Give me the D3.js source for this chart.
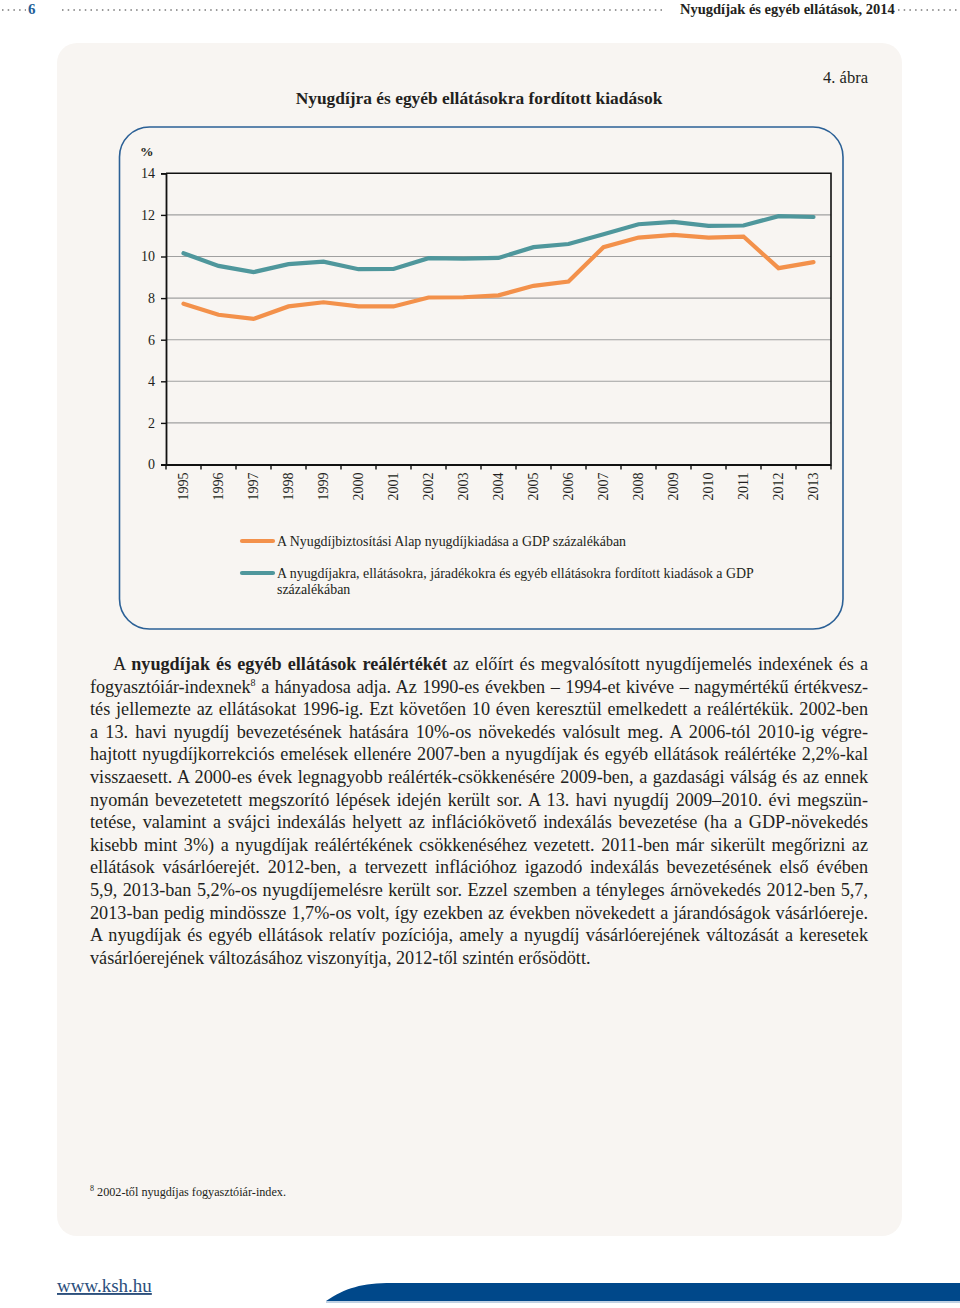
<!DOCTYPE html>
<html><head><meta charset="utf-8">
<script src="https://cdn.jsdelivr.net/npm/d3@7"></script>
<style>
html,body{margin:0;padding:0;background:#fff;}
#page{position:relative;width:960px;height:1308px;overflow:hidden;font-family:"Liberation Serif","DejaVu Serif",serif;}
svg{position:absolute;left:0;top:0;}
.body{position:absolute;left:90px;width:778px;font-size:18.2px;line-height:22.6px;color:#231f20;}
.body div{white-space:nowrap;text-align:justify;text-align-last:justify;}
.body div.last{text-align-last:left;}
.body div.tight{letter-spacing:-0.08px;}
.body sup{font-size:10px;line-height:0;}
.foot{position:absolute;left:90px;top:1184px;font-size:12.2px;color:#231f20;}
.foot sup{font-size:8px;}
</style></head>
<body><div id="page"></div>
<script>
// ---- data ----
const years = ["1995","1996","1997","1998","1999","2000","2001","2002","2003","2004","2005","2006","2007","2008","2009","2010","2011","2012","2013"];
const seriesNyA = [7.73,7.2,7.0,7.6,7.8,7.6,7.6,8.03,8.04,8.13,8.59,8.8,10.45,10.91,11.04,10.91,10.96,9.44,9.73];
const seriesOsszes = [10.16,9.55,9.25,9.63,9.75,9.39,9.4,9.92,9.9,9.93,10.45,10.6,11.07,11.55,11.66,11.47,11.49,11.94,11.9];
const yTicks = [0,2,4,6,8,10,12,14];
const legendLabels = [
  ["A Nyugdíjbiztosítási Alap nyugdíjkiadása a GDP százalékában"],
  ["A nyugdíjakra, ellátásokra, járadékokra és egyéb ellátásokra fordított kiadások a GDP","százalékában"]
];
const chartTitle = "Nyugdíjra és egyéb ellátásokra fordított kiadások";
const figLabel = "4. ábra";
const headerTitle = "Nyugdíjak és egyéb ellátások, 2014";
const bodyLines = [
 'A <b>nyugdíjak és egyéb ellátások reálértékét</b> az előírt és megvalósított nyugdíjemelés indexének és a',
 'fogyasztóiár-indexnek<sup>8</sup> a hányadosa adja. Az 1990-es években – 1994-et kivéve – nagymértékű értékvesz-',
 'tés jellemezte az ellátásokat 1996-ig. Ezt követően 10 éven keresztül emelkedett a reálértékük. 2002-ben',
 'a 13. havi nyugdíj bevezetésének hatására 10%-os növekedés valósult meg. A 2006-tól 2010-ig végre-',
 'hajtott nyugdíjkorrekciós emelések ellenére 2007-ben a nyugdíjak és egyéb ellátások reálértéke 2,2%-kal',
 'visszaesett. A 2000-es évek legnagyobb reálérték-csökkenésére 2009-ben, a gazdasági válság és az ennek',
 'nyomán bevezetetett megszorító lépések idején került sor. A 13. havi nyugdíj 2009–2010. évi megszün-',
 'tetése, valamint a svájci indexálás helyett az inflációkövető indexálás bevezetése (ha a GDP-növekedés',
 'kisebb mint 3%) a nyugdíjak reálértékének csökkenéséhez vezetett. 2011-ben már sikerült megőrizni az',
 'ellátások vásárlóerejét. 2012-ben, a tervezett inflációhoz igazodó indexálás bevezetésének első évében',
 '5,9, 2013-ban 5,2%-os nyugdíjemelésre került sor. Ezzel szemben a tényleges árnövekedés 2012-ben 5,7,',
 '2013-ban pedig mindössze 1,7%-os volt, így ezekben az években növekedett a járandóságok vásárlóereje.',
 'A nyugdíjak és egyéb ellátások relatív pozíciója, amely a nyugdíj vásárlóerejének változását a keresetek',
 'vásárlóerejének változásához viszonyítja, 2012-től szintén erősödött.'
];
const footnote = '<sup>8</sup> 2002-től nyugdíjas fogyasztóiár-index.';

// ---- drawing ----
(function(){
const page = d3.select("#page");
const svg = page.append("svg").attr("width",960).attr("height",1308);
const serif = '"Liberation Serif","DejaVu Serif",serif';

// header
const dotLine = (x1,x2,yy)=>svg.append("line").attr("x1",x1).attr("x2",x2).attr("y1",yy).attr("y2",yy)
  .attr("stroke","#9a9a9a").attr("stroke-width",2).attr("stroke-dasharray","1.5,4.2").attr("stroke-linecap","butt");
dotLine(2,26,10); dotLine(62,662,10); dotLine(898,960,10);
svg.append("text").attr("x",28).attr("y",14).attr("font-family",serif).attr("font-weight","bold")
  .attr("font-size",15).attr("fill","#1f5f99").text("6");
svg.append("text").attr("x",680).attr("y",14).attr("font-family",serif).attr("font-weight","bold")
  .attr("font-size",14.5).attr("fill","#231f20").text(headerTitle);

// panel
svg.append("rect").attr("x",57).attr("y",43).attr("width",845).attr("height",1193).attr("rx",20)
  .attr("fill","#f8f5f2");

svg.append("text").attr("x",868).attr("y",83).attr("text-anchor","end").attr("font-family",serif)
  .attr("font-size",16.5).attr("fill","#231f20").text(figLabel);
svg.append("text").attr("x",479).attr("y",104).attr("text-anchor","middle").attr("font-family",serif)
  .attr("font-weight","bold").attr("font-size",17.4).attr("fill","#231f20").text(chartTitle);

// chart frame
svg.append("rect").attr("x",119.5).attr("y",127).attr("width",723.5).attr("height",502).attr("rx",30)
  .attr("fill","none").attr("stroke","#2b6096").attr("stroke-width",1.6);

const pL=166, pR=831, pT=173.3, pB=464.5;
const x = d3.scaleBand().domain(years).range([pL,pR]);
const y = d3.scaleLinear().domain([0,14]).range([pB,pT]);

// gridlines
svg.append("g").selectAll("line").data(yTicks.filter(d=>d>0&&d<14)).join("line")
  .attr("x1",pL).attr("x2",pR).attr("y1",d=>y(d)).attr("y2",d=>y(d))
  .attr("stroke","#a0a0a0").attr("stroke-width",1.1);
svg.append("path").attr("d",`M${pL},${pT}H${pR}V${pB}`).attr("fill","none")
  .attr("stroke","#111").attr("stroke-width",1.6);

const yAxis = svg.append("g").attr("transform",`translate(${pL},0)`)
  .call(d3.axisLeft(y).tickValues(yTicks).tickSize(5).tickPadding(6).tickFormat(d3.format("d")));
yAxis.select(".domain").attr("stroke","#111").attr("stroke-width",1.8);
yAxis.selectAll(".tick line").attr("stroke","#111").attr("stroke-width",1.4);
yAxis.selectAll("text").attr("font-family",serif).attr("font-size",14).attr("fill","#231f20");

const xAxis = svg.append("g").attr("transform",`translate(0,${pB})`)
  .call(d3.axisBottom(x).tickSize(0).tickPadding(0));
xAxis.select(".domain").attr("stroke","#111").attr("stroke-width",2.2);
xAxis.selectAll(".tick text").attr("font-family",serif).attr("font-size",14).attr("fill","#231f20")
  .attr("text-anchor","end").attr("dy","0.35em").attr("y",0)
  .attr("transform","translate(0,8) rotate(-90)");
svg.append("g").selectAll("line").data(years.concat(["end"])).join("line")
  .attr("x1",(d,i)=>i<years.length?x(d):pR).attr("x2",(d,i)=>i<years.length?x(d):pR)
  .attr("y1",pB).attr("y2",pB+5).attr("stroke","#111").attr("stroke-width",1.4);

svg.append("text").attr("x",140).attr("y",156).attr("font-family",serif).attr("font-weight","bold")
  .attr("font-size",13.5).attr("fill","#231f20").text("%");

const line = d3.line().x((d,i)=>x(years[i])+x.bandwidth()/2).y(d=>y(d));
const colors = ["#f3914b","#4f979c"];
[seriesNyA, seriesOsszes].forEach((s,k)=>{
  svg.append("path").datum(s).attr("d",line).attr("fill","none").attr("stroke",colors[k])
    .attr("stroke-width",4.2).attr("stroke-linejoin","miter").attr("stroke-linecap","round");
});

// legend
const legY = [541, 573];
legendLabels.forEach((lines,k)=>{
  svg.append("line").attr("x1",242).attr("x2",273).attr("y1",legY[k]).attr("y2",legY[k])
    .attr("stroke",colors[k]).attr("stroke-width",4.2).attr("stroke-linecap","round");
  lines.forEach((t,j)=>{
    svg.append("text").attr("x",277).attr("y",legY[k]+4.5+j*16).attr("font-family",serif)
      .attr("font-size",13.9).attr("fill","#231f20").text(t);
  });
});

// body text
const body = page.append("div").attr("class","body").style("top","653px");
body.selectAll("div").data(bodyLines).join("div")
  .classed("last",(d,i)=>i===bodyLines.length-1)
  .classed("tight",(d,i)=>i===1)
  .style("text-indent",(d,i)=>i===0?"23px":"0px")
  .html(d=>d);
page.append("div").attr("class","foot").html(footnote);

// footer
svg.append("text").attr("x",57).attr("y",1292).attr("font-family",serif).attr("font-size",19)
  .attr("fill","#2c4f7c").attr("text-decoration","underline").text("www.ksh.hu");
svg.append("path").attr("d","M326,1301 C345,1288 362,1283 392,1283 L960,1283 L960,1301 Z").attr("fill","#00488a");
svg.append("line").attr("x1",326).attr("x2",960).attr("y1",1302).attr("y2",1302).attr("stroke","#7fa3c7").attr("stroke-width",1);
})();
</script></body></html>
